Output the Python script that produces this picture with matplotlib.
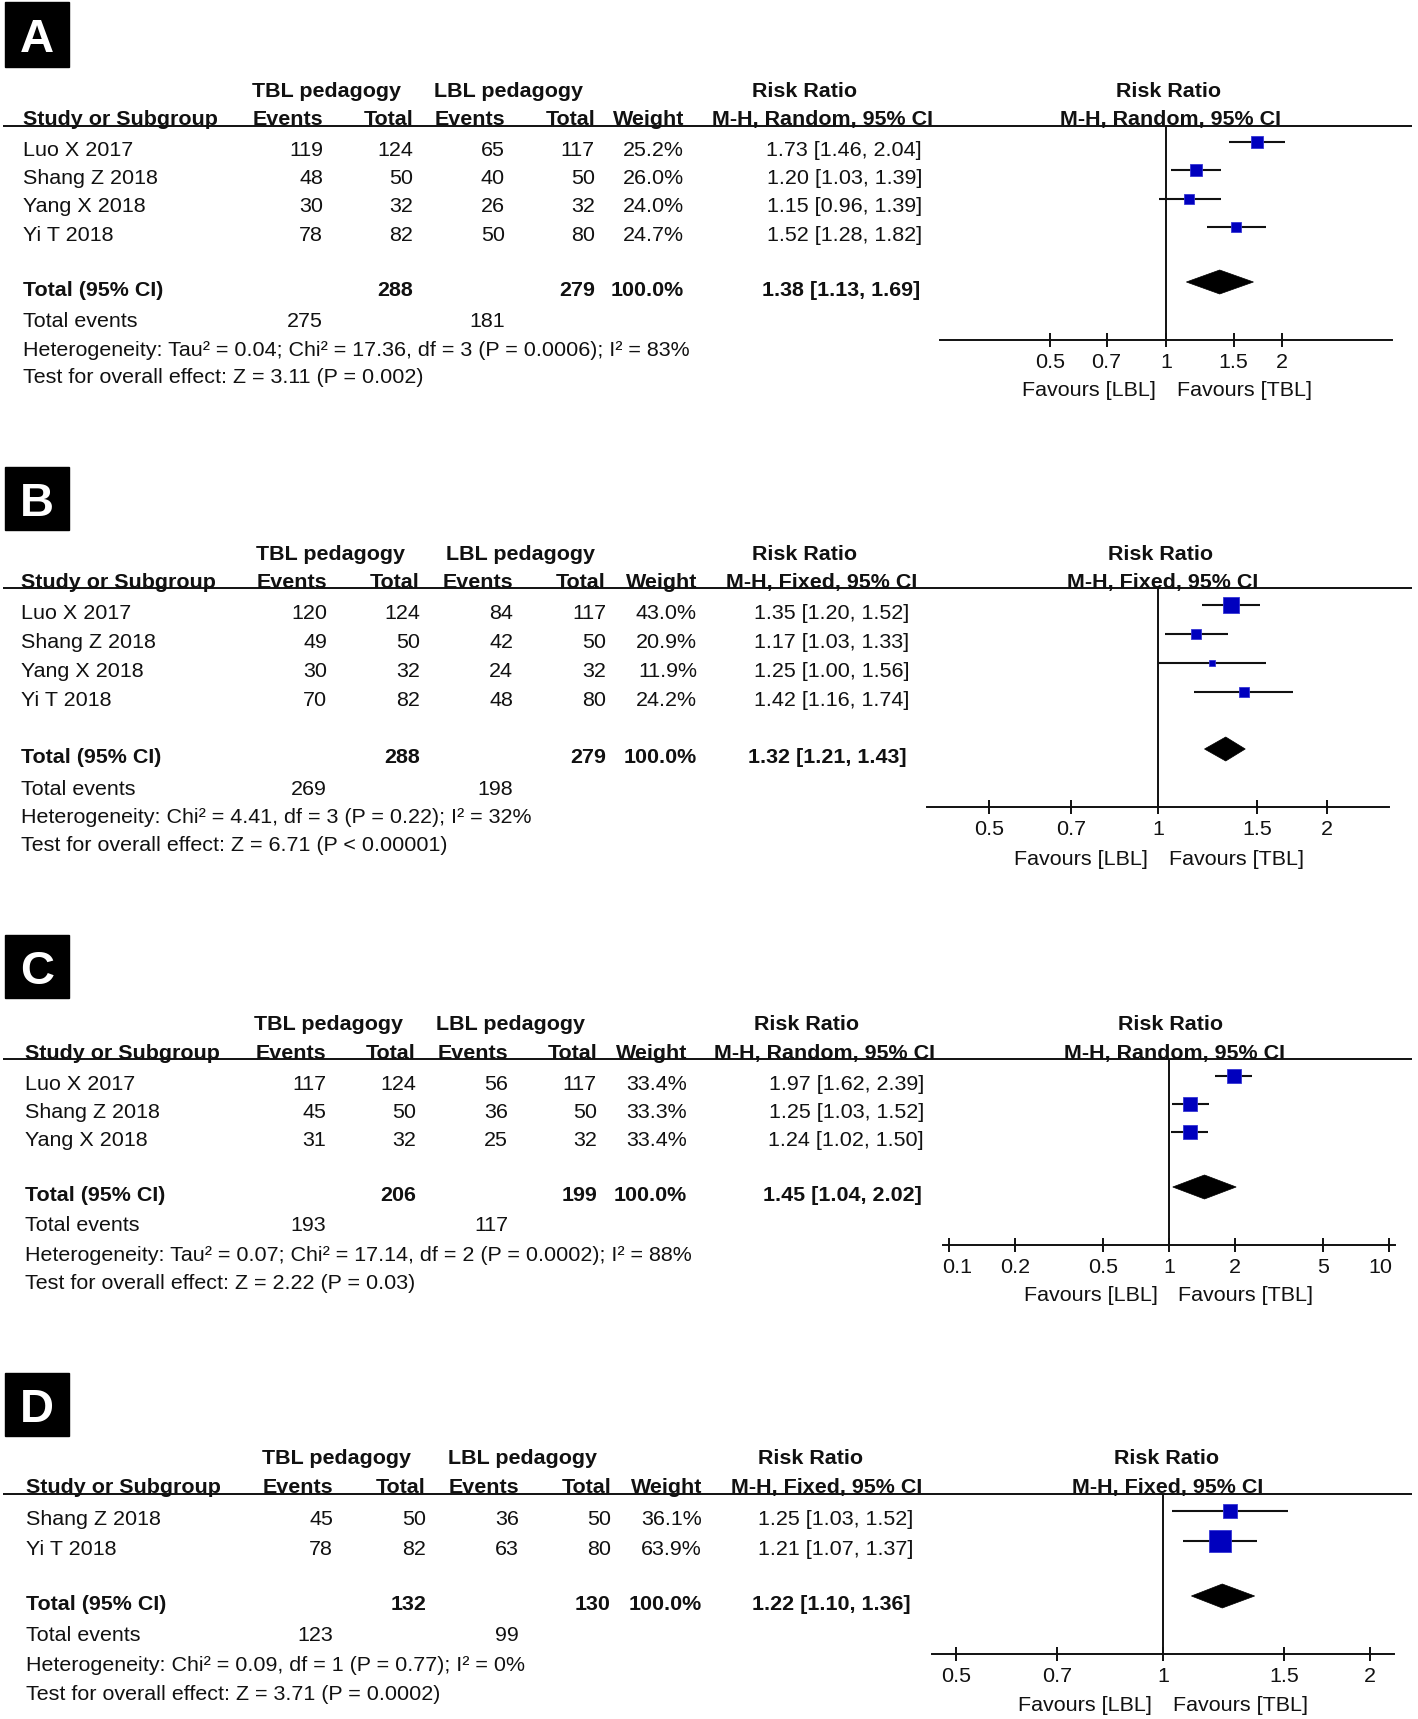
import numpy as np
import matplotlib
matplotlib.use('Agg')
import matplotlib.pyplot as plt
from matplotlib.patches import Rectangle, Polygon
from matplotlib.ticker import NullLocator
import matplotlib.transforms as mtrans

plt.rcParams['font.family'] = ['Liberation Sans', 'DejaVu Sans']

W, H = 1418, 1719

# ------------------------------------------------------------------ data
# Panel A
a_studies = ['Luo X 2017', 'Shang Z 2018', 'Yang X 2018', 'Yi T 2018']
a_tbl_events = [119, 48, 30, 78]
a_tbl_total = [124, 50, 32, 82]
a_lbl_events = [65, 40, 26, 50]
a_lbl_total = [117, 50, 32, 80]
a_weight = [25.2, 26.0, 24.0, 24.7]
a_weight_total = 100.0
a_rr = [1.73, 1.20, 1.15, 1.52]
a_lo = [1.46, 1.03, 0.96, 1.28]
a_hi = [2.04, 1.39, 1.39, 1.82]
a_pooled = [1.38, 1.13, 1.69]
a_n_total = [288, 279]
a_events_total = [275, 181]
a_method = 'M-H, Random, 95% CI'
a_het = 'Heterogeneity: Tau² = 0.04; Chi² = 17.36, df = 3 (P = 0.0006); I² = 83%'
a_test = 'Test for overall effect: Z = 3.11 (P = 0.002)'
a_ticks = [0.5, 0.7, 1, 1.5, 2]
a_ticklabels = ['0.5', '0.7', '1', '1.5', '2']

# Panel B
b_studies = ['Luo X 2017', 'Shang Z 2018', 'Yang X 2018', 'Yi T 2018']
b_tbl_events = [120, 49, 30, 70]
b_tbl_total = [124, 50, 32, 82]
b_lbl_events = [84, 42, 24, 48]
b_lbl_total = [117, 50, 32, 80]
b_weight = [43.0, 20.9, 11.9, 24.2]
b_weight_total = 100.0
b_rr = [1.35, 1.17, 1.25, 1.42]
b_lo = [1.20, 1.03, 1.00, 1.16]
b_hi = [1.52, 1.33, 1.56, 1.74]
b_pooled = [1.32, 1.21, 1.43]
b_n_total = [288, 279]
b_events_total = [269, 198]
b_method = 'M-H, Fixed, 95% CI'
b_het = 'Heterogeneity: Chi² = 4.41, df = 3 (P = 0.22); I² = 32%'
b_test = 'Test for overall effect: Z = 6.71 (P < 0.00001)'
b_ticks = [0.5, 0.7, 1, 1.5, 2]
b_ticklabels = ['0.5', '0.7', '1', '1.5', '2']

# Panel C
c_studies = ['Luo X 2017', 'Shang Z 2018', 'Yang X 2018']
c_tbl_events = [117, 45, 31]
c_tbl_total = [124, 50, 32]
c_lbl_events = [56, 36, 25]
c_lbl_total = [117, 50, 32]
c_weight = [33.4, 33.3, 33.4]
c_weight_total = 100.0
c_rr = [1.97, 1.25, 1.24]
c_lo = [1.62, 1.03, 1.02]
c_hi = [2.39, 1.52, 1.50]
c_pooled = [1.45, 1.04, 2.02]
c_n_total = [206, 199]
c_events_total = [193, 117]
c_method = 'M-H, Random, 95% CI'
c_het = 'Heterogeneity: Tau² = 0.07; Chi² = 17.14, df = 2 (P = 0.0002); I² = 88%'
c_test = 'Test for overall effect: Z = 2.22 (P = 0.03)'
c_ticks = [0.1, 0.2, 0.5, 1, 2, 5, 10]
c_ticklabels = ['0.1', '0.2', '0.5', '1', '2', '5', '10']

# Panel D
d_studies = ['Shang Z 2018', 'Yi T 2018']
d_tbl_events = [45, 78]
d_tbl_total = [50, 82]
d_lbl_events = [36, 63]
d_lbl_total = [50, 80]
d_weight = [36.1, 63.9]
d_weight_total = 100.0
d_rr = [1.25, 1.21]
d_lo = [1.03, 1.07]
d_hi = [1.52, 1.37]
d_pooled = [1.22, 1.10, 1.36]
d_n_total = [132, 130]
d_events_total = [123, 99]
d_method = 'M-H, Fixed, 95% CI'
d_het = 'Heterogeneity: Chi² = 0.09, df = 1 (P = 0.77); I² = 0%'
d_test = 'Test for overall effect: Z = 3.71 (P = 0.0002)'
d_ticks = [0.5, 0.7, 1, 1.5, 2]
d_ticklabels = ['0.5', '0.7', '1', '1.5', '2']


def pack(p):
    g = globals()
    keys = ['studies', 'tbl_events', 'tbl_total', 'lbl_events', 'lbl_total',
            'weight', 'weight_total', 'rr', 'lo', 'hi', 'pooled', 'n_total',
            'events_total', 'method', 'het', 'test', 'ticks', 'ticklabels']
    return {k: g[p + '_' + k] for k in keys}


# ------------------------------------------------------------------ layout (pixels)
LAYOUT = {
    'A': dict(box=(2, 67), h1=89, h2=117, line=126, row0=148, dy=28.3, total=288,
              ev=319, het=348, test=375, axis=340, fav=388,
              study_x=23, cols=[323, 413, 505, 595, 684], ci_r=922,
              tbl_hc=327, lbl_hc=508, rr_hc=805, mh_hc=822,
              ax_l=940, ax_r=1392, half=1.356, f_rr_hc=1168, f_mh_hc=1171,
              fav_l=1156, fav_r=1177, end_shift=0),
    'B': dict(box=(467, 530), h1=552, h2=580, line=588, row0=611, dy=29, total=755,
              ev=787, het=815, test=843, axis=807, fav=857,
              study_x=21, cols=[327, 420, 513, 606, 697], ci_r=909,
              tbl_hc=331, lbl_hc=520, rr_hc=805, mh_hc=822,
              ax_l=927, ax_r=1389, half=0.947, f_rr_hc=1160, f_mh_hc=1163,
              fav_l=1148, fav_r=1169, end_shift=0),
    'C': dict(box=(935, 998), h1=1022, h2=1051, line=1059, row0=1082, dy=28, total=1193,
              ev=1223, het=1253, test=1281, axis=1245, fav=1293,
              study_x=25, cols=[326, 416, 508, 597, 687], ci_r=924,
              tbl_hc=329, lbl_hc=511, rr_hc=807, mh_hc=824,
              ax_l=943, ax_r=1395, half=2.366, f_rr_hc=1171, f_mh_hc=1174,
              fav_l=1158, fav_r=1178, end_shift=8),
    'D': dict(box=(1373, 1436), h1=1456, h2=1485, line=1494, row0=1517, dy=30, total=1602,
              ev=1633, het=1663, test=1692, axis=1654, fav=1703,
              study_x=26, cols=[333, 426, 519, 611, 702], ci_r=913,
              tbl_hc=336, lbl_hc=522, rr_hc=810, mh_hc=827,
              ax_l=932, ax_r=1394, half=0.775, f_rr_hc=1166, f_mh_hc=1168,
              fav_l=1152, fav_r=1173, end_shift=0),
}

TXT = '#111111'
FS = 15.45
CAP = 7.7          # half cap height in px
MARK_UP = 6        # markers sit slightly above text centre
BLUE = '#0000BE'

fig = plt.figure(figsize=(W / 100, H / 100), dpi=100)
fig.patch.set_facecolor('white')
ov = fig.add_axes([0, 0, 1, 1])
ov.set_xlim(0, W)
ov.set_ylim(H, 0)
ov.axis('off')
ov.patch.set_alpha(0)


def t(x, yc, s, ha='left', bold=False):
    ov.text(x, yc + CAP, s, ha=ha, va='baseline', fontsize=FS,
            fontweight='bold' if bold else 'normal', color=TXT)


def draw_panel(letter, d, L):
    # panel letter
    b0, b1 = L['box']
    ov.add_patch(Rectangle((5, b0), 64, b1 - b0, color='black', zorder=1))
    ov.text(37, (b0 + b1) / 2 + 17, letter, color='white', fontsize=34,
            fontweight='bold', ha='center', va='baseline', zorder=2)

    c = L['cols']
    # headers
    t(L['tbl_hc'], L['h1'], 'TBL pedagogy', 'center', True)
    t(L['lbl_hc'], L['h1'], 'LBL pedagogy', 'center', True)
    t(L['rr_hc'], L['h1'], 'Risk Ratio', 'center', True)
    t(L['f_rr_hc'], L['h1'], 'Risk Ratio', 'center', True)
    t(L['study_x'], L['h2'], 'Study or Subgroup', 'left', True)
    t(c[0], L['h2'], 'Events', 'right', True)
    t(c[1], L['h2'], 'Total', 'right', True)
    t(c[2], L['h2'], 'Events', 'right', True)
    t(c[3], L['h2'], 'Total', 'right', True)
    t(c[4], L['h2'], 'Weight', 'right', True)
    t(L['mh_hc'], L['h2'], d['method'], 'center', True)
    t(L['f_mh_hc'], L['h2'], d['method'], 'center', True)
    ov.plot([3, 1412], [L['line'], L['line']], color='#111111', lw=1.4,
            solid_capstyle='butt')

    # study rows
    n = len(d['studies'])
    ys = [L['row0'] + L['dy'] * i for i in range(n)]
    for i in range(n):
        y = ys[i]
        t(L['study_x'], y, d['studies'][i])
        t(c[0], y, str(d['tbl_events'][i]), 'right')
        t(c[1], y, str(d['tbl_total'][i]), 'right')
        t(c[2], y, str(d['lbl_events'][i]), 'right')
        t(c[3], y, str(d['lbl_total'][i]), 'right')
        t(c[4], y, f"{d['weight'][i]:.1f}%", 'right')
        t(L['ci_r'], y, f"{d['rr'][i]:.2f} [{d['lo'][i]:.2f}, {d['hi'][i]:.2f}]", 'right')

    # totals
    p = d['pooled']
    t(L['study_x'], L['total'], 'Total (95% CI)', 'left', True)
    t(c[1], L['total'], str(d['n_total'][0]), 'right', True)
    t(c[3], L['total'], str(d['n_total'][1]), 'right', True)
    t(c[4], L['total'], f"{d['weight_total']:.1f}%", 'right', True)
    t(L['ci_r'] - 2, L['total'], f"{p[0]:.2f} [{p[1]:.2f}, {p[2]:.2f}]", 'right', True)
    t(L['study_x'], L['ev'], 'Total events')
    t(c[0], L['ev'], str(d['events_total'][0]), 'right')
    t(c[2], L['ev'], str(d['events_total'][1]), 'right')
    t(L['study_x'], L['het'], d['het'])
    t(L['study_x'], L['test'], d['test'])

    # forest plot
    ax = fig.add_axes([L['ax_l'] / W, 1 - L['axis'] / H,
                       (L['ax_r'] - L['ax_l']) / W, (L['axis'] - L['line']) / H])
    ax.patch.set_alpha(0)
    ax.set_xscale('log')
    ax.set_xlim(np.exp(-L['half']), np.exp(L['half']))
    ax.set_ylim(L['axis'], L['line'])
    for s in ['top', 'left', 'right']:
        ax.spines[s].set_visible(False)
    ax.spines['bottom'].set_linewidth(1.4)
    ax.spines['bottom'].set_color('#111111')
    ax.set_yticks([])
    ax.axvline(1, color='#111111', lw=1.4, zorder=1)

    for i in range(n):
        y = ys[i] - MARK_UP
        ax.plot([d['lo'][i], d['hi'][i]], [y, y], color='#111111', lw=1.5,
                solid_capstyle='butt', zorder=2, clip_on=False)
        side_px = 1.16 * d['weight'][i] ** 0.7
        ax.plot([d['rr'][i]], [y], marker='s', ms=side_px * 0.72, mfc=BLUE,
                mec='#3535D5', mew=0.6, zorder=3, clip_on=False)
    yt = L['total'] - MARK_UP
    hh = 12
    ax.add_patch(Polygon([(p[1], yt), (p[0], yt - hh), (p[2], yt), (p[0], yt + hh)],
                         closed=True, fc='black', ec='black', lw=0.5, zorder=3))

    ax.set_xticks(d['ticks'], d['ticklabels'])
    ax.xaxis.set_minor_locator(NullLocator())
    ax.tick_params(axis='x', which='major', direction='inout', length=10, width=1.4,
                   labelsize=FS, pad=4.5, colors='#111111', labelcolor=TXT)
    if L['end_shift']:
        labs = ax.get_xticklabels()
        off = L['end_shift'] / 100.0
        labs[0].set_transform(labs[0].get_transform() +
                              mtrans.ScaledTranslation(off, 0, fig.dpi_scale_trans))
        labs[-1].set_transform(labs[-1].get_transform() +
                               mtrans.ScaledTranslation(-off - 0.01, 0, fig.dpi_scale_trans))

    t(L['fav_l'], L['fav'], 'Favours [LBL]', 'right')
    t(L['fav_r'], L['fav'], 'Favours [TBL]', 'left')


for letter in ['A', 'B', 'C', 'D']:
    draw_panel(letter, pack(letter.lower()), LAYOUT[letter])

fig.savefig('out.png', dpi=100, facecolor='white')
